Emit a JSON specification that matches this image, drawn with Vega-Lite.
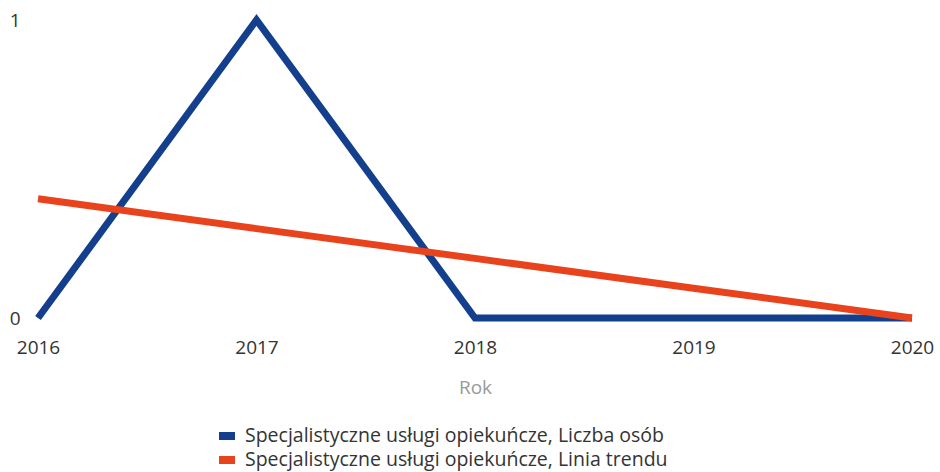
{
  "$schema": "https://vega.github.io/schema/vega-lite/v6.json",
  "autosize": "none",
  "width": 874,
  "height": 298,
  "padding": {"left": 38, "top": 20, "right": 28, "bottom": 154},
  "background": "white",
  "config": {
    "view": {"stroke": null},
    "font": "Open Sans",
    "axis": {"grid": false, "ticks": false, "domain": false, "labelFont": "Open Sans", "labelColor": "#333333", "labelFontSize": 19}
  },
  "data": {
    "values": [
      {"rok": "2016", "wartosc": 0, "seria": "Specjalistyczne usługi opiekuńcze, Liczba osób"},
      {"rok": "2017", "wartosc": 1, "seria": "Specjalistyczne usługi opiekuńcze, Liczba osób"},
      {"rok": "2018", "wartosc": 0, "seria": "Specjalistyczne usługi opiekuńcze, Liczba osób"},
      {"rok": "2019", "wartosc": 0, "seria": "Specjalistyczne usługi opiekuńcze, Liczba osób"},
      {"rok": "2020", "wartosc": 0, "seria": "Specjalistyczne usługi opiekuńcze, Liczba osób"},
      {"rok": "2016", "wartosc": 0.4, "seria": "Specjalistyczne usługi opiekuńcze, Linia trendu"},
      {"rok": "2017", "wartosc": 0.3, "seria": "Specjalistyczne usługi opiekuńcze, Linia trendu"},
      {"rok": "2018", "wartosc": 0.2, "seria": "Specjalistyczne usługi opiekuńcze, Linia trendu"},
      {"rok": "2019", "wartosc": 0.1, "seria": "Specjalistyczne usługi opiekuńcze, Linia trendu"},
      {"rok": "2020", "wartosc": 0, "seria": "Specjalistyczne usługi opiekuńcze, Linia trendu"}
    ]
  },
  "mark": {"type": "line", "strokeWidth": 7, "strokeJoin": "miter", "strokeCap": "butt"},
  "encoding": {
    "x": {
      "field": "rok", "type": "ordinal",
      "scale": {"type": "point", "padding": 0},
      "axis": {"labelAngle": 0, "labelPadding": 20, "title": "Rok", "titleFont": "Open Sans", "titleFontSize": 19, "titleFontWeight": "normal", "titleColor": "#9a9a9a", "titlePadding": 21}
    },
    "y": {
      "field": "wartosc", "type": "quantitative",
      "scale": {"domain": [0, 1]},
      "axis": {"values": [0, 1], "format": "d", "title": null, "labelPadding": 18}
    },
    "color": {
      "field": "seria", "type": "nominal",
      "scale": {
        "domain": ["Specjalistyczne usługi opiekuńcze, Liczba osób", "Specjalistyczne usługi opiekuńcze, Linia trendu"],
        "range": ["#143f8c", "#e8431c"]
      },
      "legend": {
        "title": null, "orient": "none", "legendX": 177, "legendY": 406,
        "symbolType": "stroke", "symbolSize": 256, "symbolStrokeWidth": 8,
        "labelFont": "Open Sans", "labelFontSize": 19.5, "labelColor": "#333333",
        "clipHeight": 20, "rowPadding": 4, "labelOffset": 6, "labelLimit": 700
      }
    },
    "order": {"field": "seria"}
  }
}
